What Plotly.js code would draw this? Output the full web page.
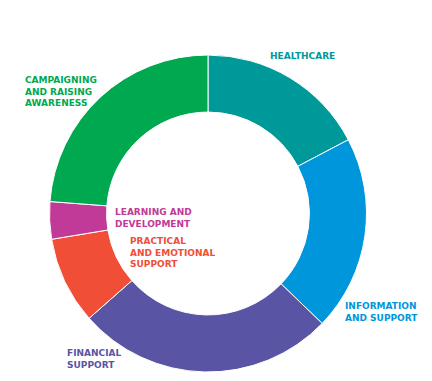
<!DOCTYPE html>
<html>
<head>
<meta charset="utf-8">
<script src="https://cdn.plot.ly/plotly-3.0.1.min.js"></script>
<style>html,body{margin:0;padding:0;background:#fff}#chart{width:432px;height:381px}</style>
</head>
<body>
<div id="chart"></div>
<script>
const categories = ["Healthcare", "Information and support", "Financial support", "Practical and emotional support", "Learning and development", "Campaigning and raising awareness"];
const values = [17.3, 19.9, 26.3, 8.9, 3.8, 23.8];
const colors = ["#00999A", "#0096DC", "#5A54A4", "#F04E37", "#C13A97", "#00A84F"];
const labelLines = [
  ["HEALTHCARE"],
  ["INFORMATION", "AND SUPPORT"],
  ["FINANCIAL", "SUPPORT"],
  ["PRACTICAL", "AND EMOTIONAL", "SUPPORT"],
  ["LEARNING AND", "DEVELOPMENT"],
  ["CAMPAIGNING", "AND RAISING", "AWARENESS"]
];
// label anchor positions (pixels: left x, block center y)
const labelPos = [[268, 56], [343, 312], [65, 358.5], [128, 252.5], [113, 217.5], [23, 91.5]];
const W = 432, H = 381;

const annotations = labelLines.map((lines, i) => ({
  text: lines.join("<br>"), xref: "paper", yref: "paper",
  x: labelPos[i][0] / W, y: 1 - labelPos[i][1] / H,
  xanchor: "left", yanchor: "middle", align: "left", showarrow: false,
  font: {family: "'DejaVu Sans', sans-serif", size: 9, color: colors[i], weight: "bold"}
}));

const data = [{
  type: "pie", labels: categories, values: values, sort: false,
  direction: "clockwise", rotation: 0, hole: 0.64,
  marker: {colors: colors, line: {color: "#ffffff", width: 1}},
  textinfo: "none", hoverinfo: "none", showlegend: false,
  domain: {x: [49 / W, 367 / W], y: [1 - 372 / H, 1 - 55 / H]}
}];

Plotly.newPlot("chart", data, {
  width: W, height: H, margin: {l: 0, r: 0, t: 0, b: 0},
  paper_bgcolor: "#fff", plot_bgcolor: "#fff", showlegend: false,
  annotations: annotations
}, {displayModeBar: false, staticPlot: true});
</script>
</body>
</html>
